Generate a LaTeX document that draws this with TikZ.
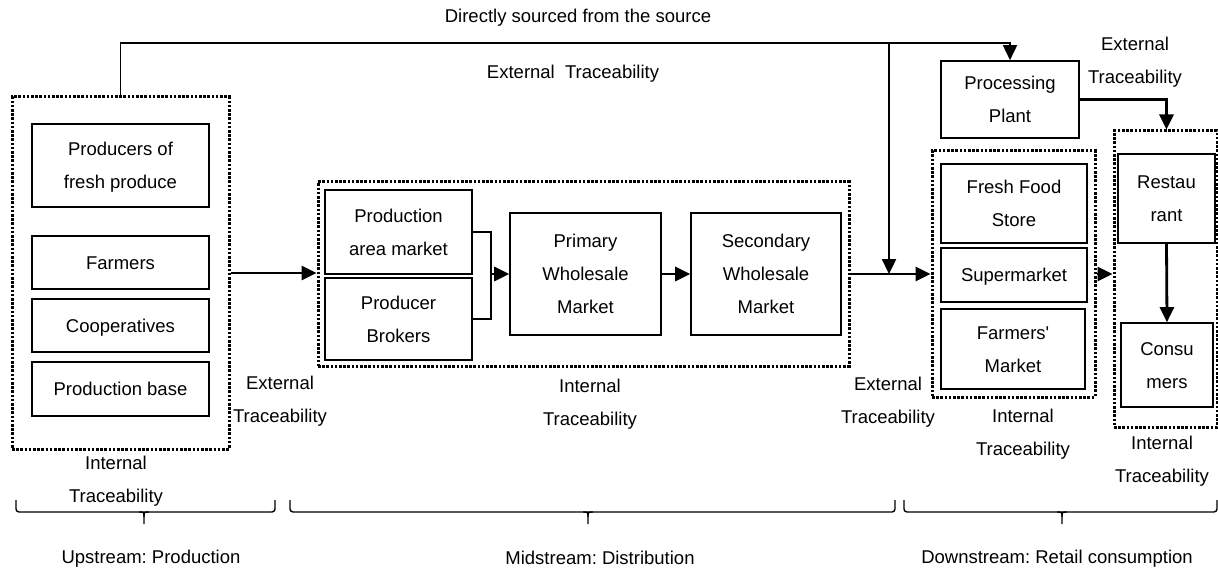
\documentclass[tikz,border=0pt]{standalone}
\usepackage{fontspec}
\setmainfont{Liberation Sans}
\usetikzlibrary{arrows.meta,calc}
\frenchspacing
% centred block of lines with equal strut rows, so the lines sit evenly in a node
\newcommand\celltext[1]{\begin{tabular}{@{}c@{}}#1\end{tabular}}
\begin{document}
\begin{tikzpicture}[x=1pt,y=-1pt,
  every node/.style={font=\fontsize{18.5}{33}\selectfont},
  box/.style={draw, line width=1.6pt, inner sep=0pt, fill=white},
  zone/.style={draw, line width=3pt, dash pattern=on 2.6pt off 1.6pt, inner sep=0pt},
  lbl/.style={inner sep=0pt},
  flow/.style={line width=2.8pt, -{Triangle[length=15pt,width=14pt]}},
  link/.style={line width=2.8pt},
  bracestroke/.style={line width=1.4pt}
]
\useasboundingbox (0,0) rectangle (1218,572);

% traceability zones (dotted frames)
\node[zone, minimum width=217pt, minimum height=352pt] (up) at (120.5,273) {};
\node[zone, minimum width=531pt, minimum height=184pt] (mid) at (583.5,274) {};
\node[zone, minimum width=163pt, minimum height=246pt] (ret) at (1013.5,274) {};
\node[zone, minimum width=103pt, minimum height=296pt] (cz) at (1165.5,279) {};

% upstream actors
\node[box, minimum width=177pt, minimum height=83pt] (prod) at (120.5,165.5) {\celltext{Producers of\\fresh produce}};
\node[box, minimum width=177pt, minimum height=53pt] (farm) at (120.5,262.5) {\celltext{Farmers}};
\node[box, minimum width=177pt, minimum height=53pt] (coop) at (120.5,325.5) {\celltext{Cooperatives}};
\node[box, minimum width=177pt, minimum height=54pt] (base) at (120.5,389) {\celltext{Production base}};

% midstream actors
\node[box, minimum width=147pt, minimum height=84pt] (pam) at (398.5,232) {\celltext{Production\\area market}};
\node[box, minimum width=147pt, minimum height=82pt] (brok) at (398.5,319) {\celltext{Producer\\Brokers}};
\node[box, minimum width=151pt, minimum height=122pt] (prim) at (585.5,274) {\celltext{Primary\\Wholesale\\Market}};
\node[box, minimum width=150pt, minimum height=122pt] (sec) at (766,274) {\celltext{Secondary\\Wholesale\\Market}};

% downstream actors
\node[box, minimum width=138pt, minimum height=77pt] (plant) at (1010,99.5) {\celltext{Processing\\Plant}};
\node[box, minimum width=146pt, minimum height=79pt] (ffs) at (1014,203.5) {\celltext{Fresh Food\\Store}};
\node[box, minimum width=146pt, minimum height=54pt] (sup) at (1014,275) {\celltext{Supermarket}};
\node[box, minimum width=144pt, minimum height=80pt] (fm) at (1013,349) {\celltext{Farmers\textquotesingle\\Market}};
\node[box, minimum width=97pt, minimum height=89pt] (rest) at (1166.5,198.5) {\celltext{Restau\\rant}};
\node[box, minimum width=92pt, minimum height=84pt] (cons) at (1167,365) {\celltext{Consu\\mers}};

% labels
\node[lbl] (direct) at (578,16) {\celltext{Directly sourced from the source}};
\node[lbl] (ext0) at (573,72) {\celltext{External\ \ Traceability}};
\node[lbl] (ext1) at (280,399.5) {\celltext{External\\Traceability}};
\node[lbl] (int1) at (116,479) {\celltext{Internal\\Traceability}};
\node[lbl] (int2) at (590,402) {\celltext{Internal\\Traceability}};
\node[lbl] (ext2) at (888,400.5) {\celltext{External\\Traceability}};
\node[lbl] (int3) at (1023,432.5) {\celltext{Internal\\Traceability}};
\node[lbl] (int4) at (1162,459) {\celltext{Internal\\Traceability}};
\node[lbl] (ext3) at (1135,60) {\celltext{External\\Traceability}};

% junction points
\coordinate (ytop) at (0,43);
\coordinate (j) at (491,274);
\coordinate (jn) at (889,274);

% flows
\draw[flow] (up.east) -- (up.east -| mid.west);
\draw[link] (pam.east) -| (j) |- (brok.east);
\draw[flow] (j) -- (prim.west);
\draw[flow] (prim.east) -- (sec.west);
\draw[flow] (mid.east) -- (ret.west);
\draw[flow, line width=1.7pt] (up.north) |- (ytop -| plant.north) -- (plant.north);
\draw[flow, line width=2.4pt] (ytop -| jn) -- (jn);
\draw[flow] (plant.east) -| (rest.north |- cz.north);
\draw[flow] (ret.east) -- (ret.east -| cz.west);
\draw[flow] (rest.south) -- (cons.north);

% stage braces
\draw[bracestroke, rounded corners=3pt] (16,500) -- (16,512) -- (275,512) -- (275,500);
\draw[bracestroke] (139,512) .. controls (144,512) .. (144,517) -- (144,524);
\draw[bracestroke] (149,512) .. controls (144,512) .. (144,517);
\draw[bracestroke, rounded corners=3pt] (290,500) -- (290,512) -- (895,512) -- (895,500);
\draw[bracestroke] (583,512) .. controls (588,512) .. (588,517) -- (588,524);
\draw[bracestroke] (593,512) .. controls (588,512) .. (588,517);
\draw[bracestroke, rounded corners=3pt] (904,500) -- (904,512) -- (1217,512) -- (1217,500);
\draw[bracestroke] (1057,512) .. controls (1062,512) .. (1062,517) -- (1062,524);
\draw[bracestroke] (1067,512) .. controls (1062,512) .. (1062,517);

\node[lbl] (upst) at (151,557) {\celltext{Upstream: Production}};
\node[lbl] (midst) at (600,558) {\celltext{Midstream: Distribution}};
\node[lbl] (downst) at (1057,557) {\celltext{Downstream: Retail consumption}};
\end{tikzpicture}
\end{document}
